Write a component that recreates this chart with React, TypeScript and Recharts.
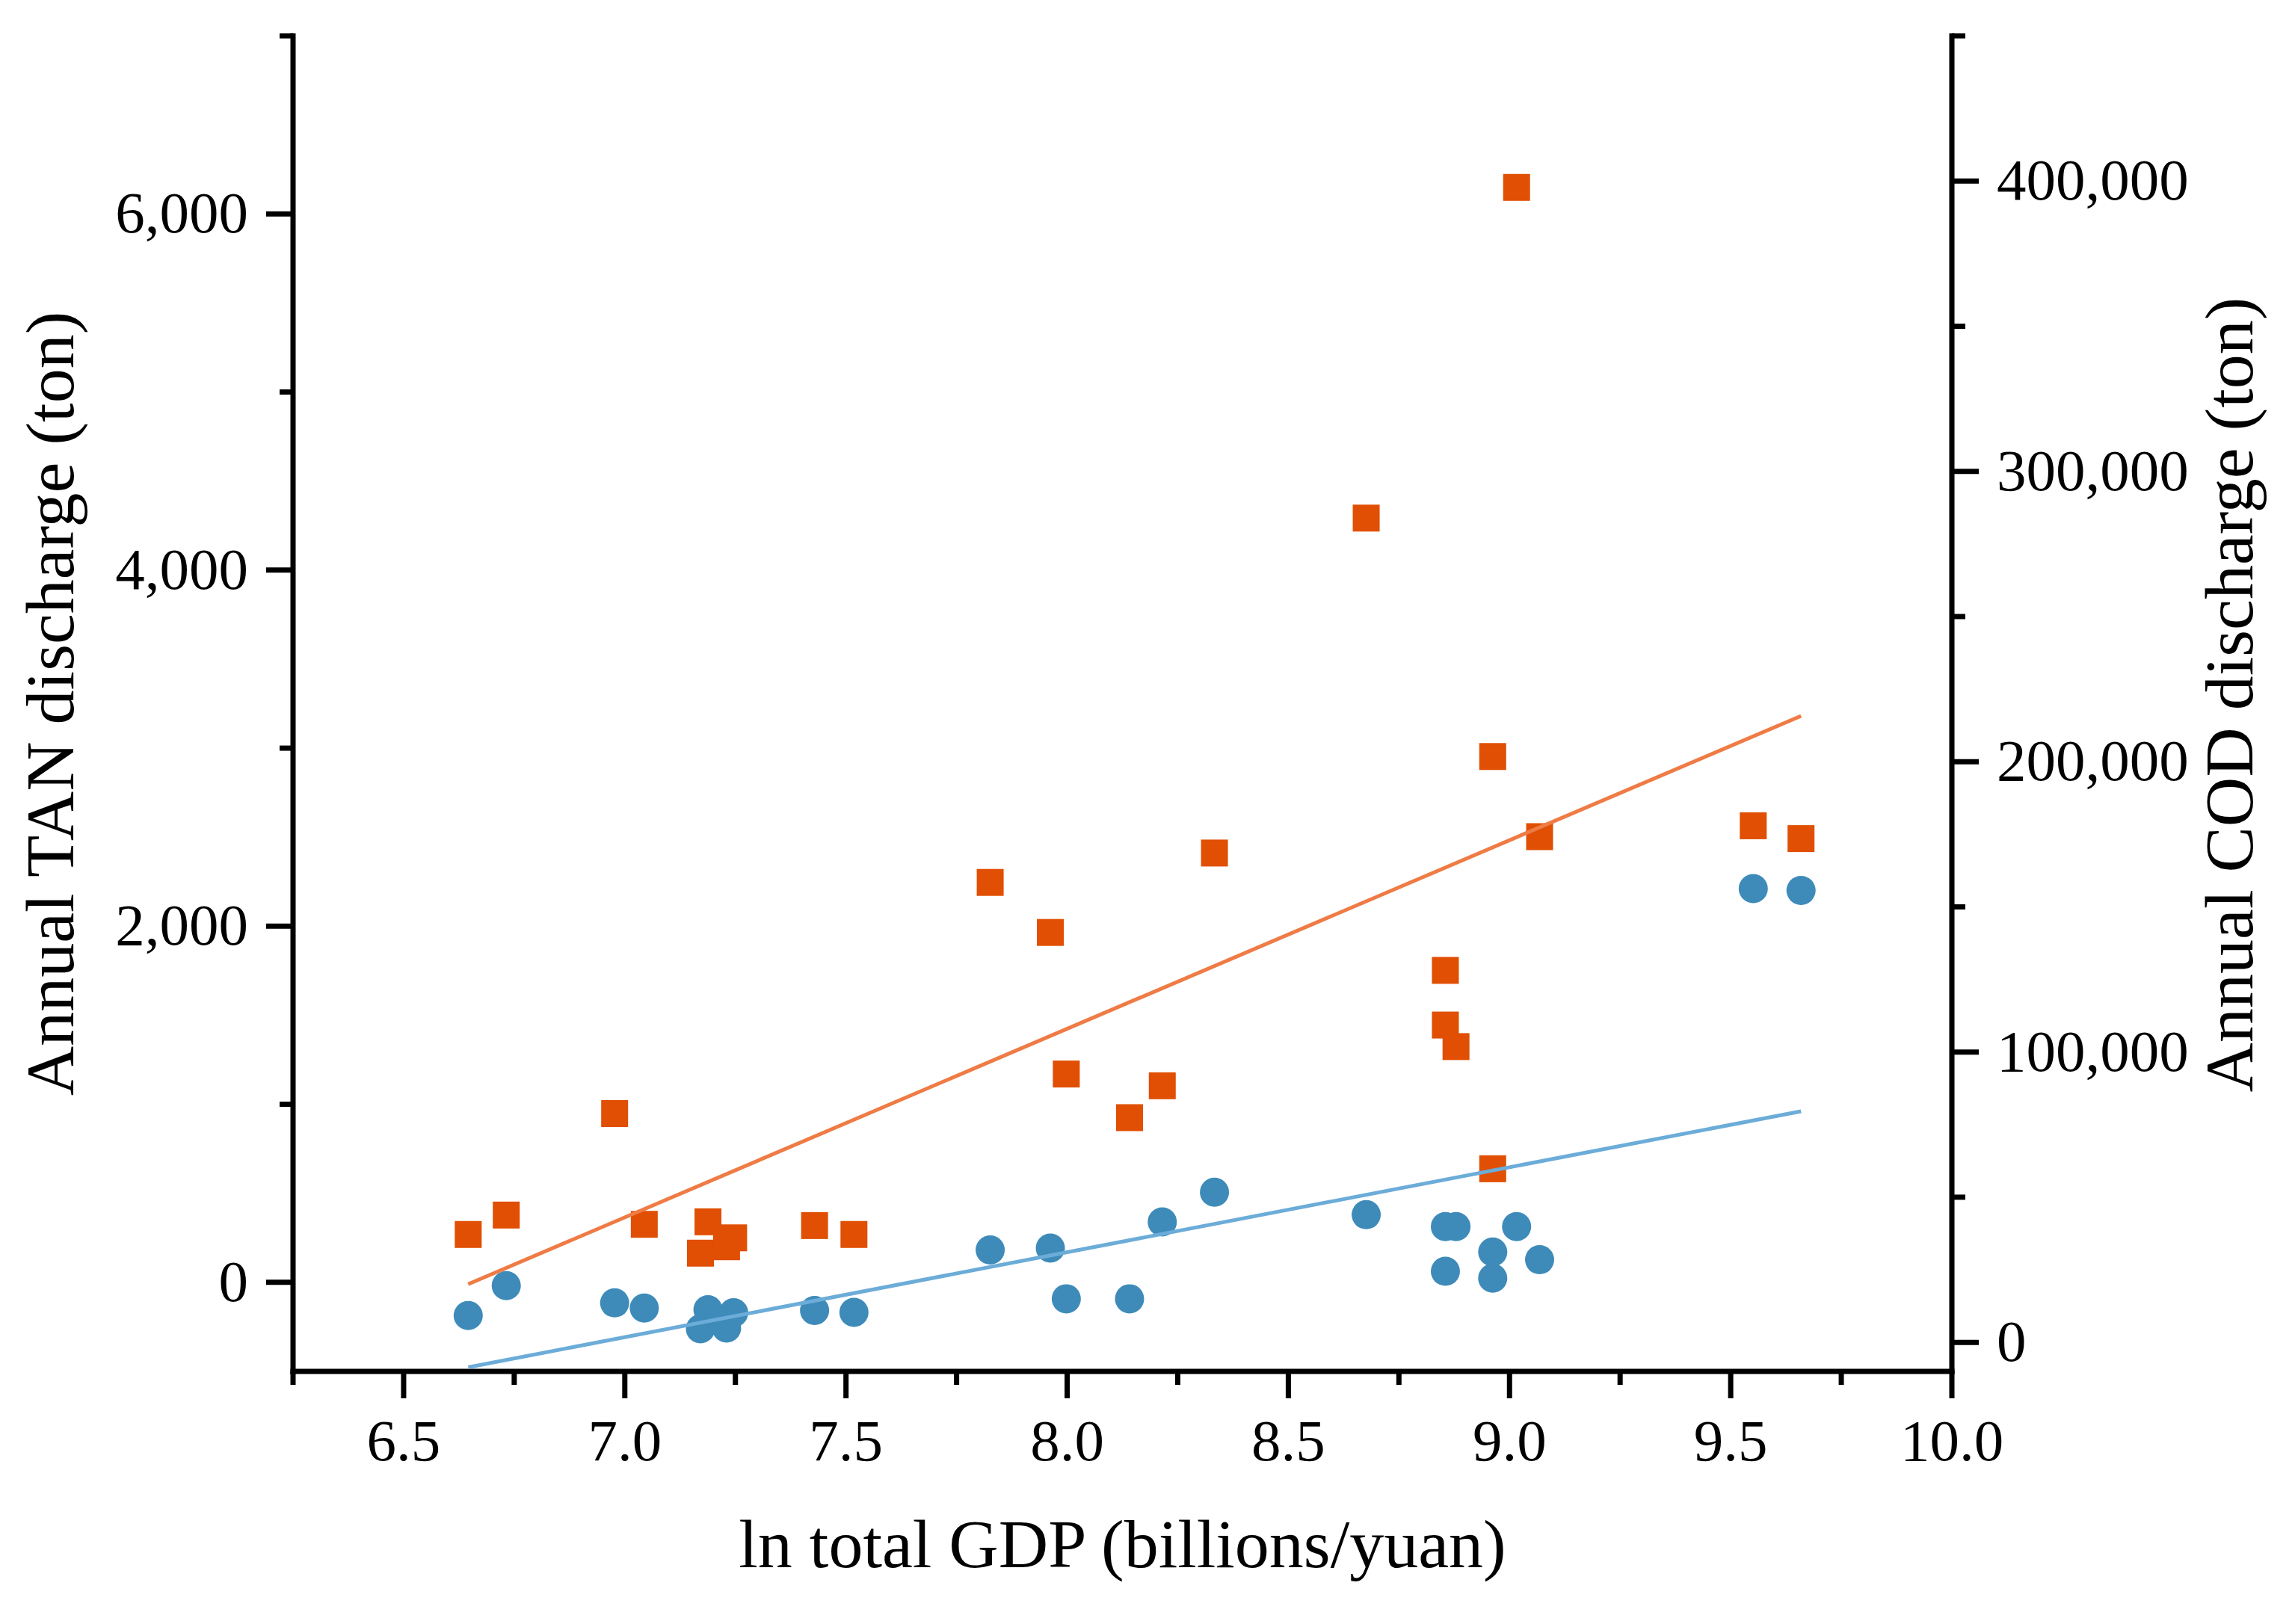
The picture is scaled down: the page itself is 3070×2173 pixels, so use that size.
import React from 'react'
import { ScatterChart, Scatter, XAxis, YAxis, Label } from 'recharts'

// ln total GDP of each city (shared by both series)
const gdpLn = [
  6.646, 6.732, 6.977, 7.044, 7.171, 7.188, 7.23, 7.246, 7.429, 7.518,
  7.826, 7.962, 7.998, 8.141, 8.215, 8.333, 8.676, 8.855, 8.855, 8.879,
  8.962, 8.962, 9.016, 9.068, 9.551, 9.659
]

// Annual TAN discharge (ton), left axis
const tanDischarge = [
  269, 378, 948, 326, 164, 340, 200, 250, 319, 269,
  2246, 1965, 1170, 925, 1104, 2411, 4292, 1752, 1445, 1324,
  638, 2953, 6149, 2503, 2564, 2492
]

// Annual COD discharge (ton), right axis
const codDischarge = [
  9260, 19530, 13590, 11830, 4660, 11220, 4910, 10210, 10960, 10320,
  31830, 32470, 15000, 15000, 41500, 51720, 43970, 39880, 24470, 39880,
  31130, 22100, 39880, 28460, 156310, 155670
]

// fitted lines, end points
const fitX = [6.646, 9.659]
const tanFit = [-10, 3181]
const codFit = [-8570, 79600]

const xMajorTicks = [6.5, 7.0, 7.5, 8.0, 8.5, 9.0, 9.5, 10.0]
const xMinorTicks = [6.25, 6.75, 7.25, 7.75, 8.25, 8.75, 9.25, 9.75]
const tanMajorTicks = [0, 2000, 4000, 6000]
const tanMinorTicks = [1000, 3000, 5000, 7000]
const codMajorTicks = [0, 100000, 200000, 300000, 400000]
const codMinorTicks = [50000, 150000, 250000, 350000, 450000]

const tanPoints = gdpLn.map((x, i) => ({ x, y: tanDischarge[i] }))
const codPoints = gdpLn.map((x, i) => ({ x, y: codDischarge[i] }))
const tanFitPoints = fitX.map((x, i) => ({ x, y: tanFit[i] }))
const codFitPoints = fitX.map((x, i) => ({ x, y: codFit[i] }))

const FONT = '"Liberation Serif", "Times New Roman", serif'
const INK = '#000'
const TICK_FONT = 79
const TITLE_FONT = 92
const MAJOR = 36
const MINOR = 18
const TICK_W = 7

const isMajor = (list: number[], v: number) => list.some((t) => Math.abs(t - v) < 1e-9)
const fmt = (v: number) => v.toLocaleString('en-US')

const BottomTick = ({ x, y, payload }: any) => {
  const major = isMajor(xMajorTicks, payload.value)
  return (
    <g>
      <line x1={x} y1={y} x2={x} y2={y + (major ? MAJOR : MINOR)} stroke={INK} strokeWidth={TICK_W} />
      {major && (
        <text x={x} y={y + 119} textAnchor="middle" fontSize={TICK_FONT} fontFamily={FONT} fill={INK}>
          {payload.value.toFixed(1)}
        </text>
      )}
    </g>
  )
}

const TopTick = ({ x, y, payload }: any) => {
  const major = isMajor(xMajorTicks, payload.value)
  return <line x1={x} y1={y} x2={x} y2={y + (major ? MAJOR - 3 : MINOR - 2)} stroke={INK} strokeWidth={TICK_W} />
}

const LeftTick = ({ x, y, payload }: any) => {
  const major = isMajor(tanMajorTicks, payload.value)
  return (
    <g>
      <line x1={x} y1={y} x2={x - (major ? MAJOR : MINOR)} y2={y} stroke={INK} strokeWidth={TICK_W} />
      {major && (
        <text x={x - 60} y={y + 25} textAnchor="end" fontSize={TICK_FONT} fontFamily={FONT} fill={INK}>
          {fmt(payload.value)}
        </text>
      )}
    </g>
  )
}

const RightTick = ({ x, y, payload }: any) => {
  const major = isMajor(codMajorTicks, payload.value)
  return (
    <g>
      <line x1={x} y1={y} x2={x + (major ? MAJOR : MINOR)} y2={y} stroke={INK} strokeWidth={TICK_W} />
      {major && (
        <text x={x + 60} y={y + 25} textAnchor="start" fontSize={TICK_FONT} fontFamily={FONT} fill={INK}>
          {fmt(payload.value)}
        </text>
      )}
    </g>
  )
}

const SquareDot = ({ cx, cy }: any) => (
  <rect x={cx - 18} y={cy - 18} width={36} height={36} fill="#E04F03" />
)

const CircleDot = ({ cx, cy }: any) => <circle cx={cx} cy={cy} r={19.5} fill="#3E8BBA" />

const NoDot = () => <g />

const verticalTitle = (text: string, dx: number, dy: number) => ({ viewBox }: any) => {
  const bx = viewBox.x + dx
  const by = viewBox.y + viewBox.height / 2 + dy
  return (
    <text
      x={bx}
      y={by}
      transform={`rotate(-90 ${bx} ${by})`}
      textAnchor="middle"
      fontSize={TITLE_FONT}
      fontFamily={FONT}
      fill={INK}
    >
      {text}
    </text>
  )
}

const bottomTitle = ({ viewBox }: any) => (
  <text
    x={viewBox.x + viewBox.width / 2}
    y={viewBox.y + 262}
    textAnchor="middle"
    fontSize={TITLE_FONT}
    fontFamily={FONT}
    fill={INK}
  >
    ln total GDP (billions/yuan)
  </text>
)

const axisLine = { stroke: INK, strokeWidth: TICK_W, strokeLinecap: 'square' as const }

export default function App() {
  return (
    <div style={{ position: 'absolute', left: 0, top: 0, width: 3070, height: 2173, background: '#fff' }}>
      <ScatterChart width={3070} height={2173} margin={{ top: 48, right: 0, bottom: 0, left: 0 }}>
        <XAxis
          xAxisId="bottom"
          type="number"
          dataKey="x"
          domain={[6.25, 10]}
          ticks={[...xMinorTicks, ...xMajorTicks].sort((a, b) => a - b)}
          interval={0}
          height={338}
          tickSize={0}
          tickMargin={0}
          tickLine={false}
          axisLine={axisLine}
          tick={(p: any) => <BottomTick {...p} />}
          allowDataOverflow
        >
          <Label content={bottomTitle} />
        </XAxis>
        <XAxis
          xAxisId="top"
          orientation="top"
          type="number"
          dataKey="x"
          domain={[6.25, 10]}
          ticks={[...xMinorTicks, ...xMajorTicks].sort((a, b) => a - b)}
          interval={0}
          height={0}
          tickSize={0}
          tickMargin={0}
          tickLine={false}
          axisLine={axisLine}
          tick={(p: any) => <TopTick {...p} />}
          allowDataOverflow
        />
        <YAxis
          yAxisId="left"
          type="number"
          dataKey="y"
          domain={[-500, 7000]}
          ticks={[...tanMajorTicks, ...tanMinorTicks].sort((a, b) => a - b)}
          interval={0}
          width={392}
          tickSize={0}
          tickMargin={0}
          tickLine={false}
          axisLine={axisLine}
          tick={(p: any) => <LeftTick {...p} />}
          allowDataOverflow
        >
          <Label content={verticalTitle('Annual TAN discharge (ton)', 98, 0)} />
        </YAxis>
        <YAxis
          yAxisId="right"
          orientation="right"
          type="number"
          dataKey="y"
          domain={[-10000, 450000]}
          ticks={[...codMajorTicks, ...codMinorTicks].sort((a, b) => a - b)}
          interval={0}
          width={459}
          tickSize={0}
          tickMargin={0}
          tickLine={false}
          axisLine={axisLine}
          tick={(p: any) => <RightTick {...p} />}
          allowDataOverflow
        >
          <Label content={verticalTitle('Annual COD discharge (ton)', 402, -12)} />
        </YAxis>

        <Scatter
          name="TAN"
          data={tanPoints}
          xAxisId="bottom"
          yAxisId="left"
          shape={(p: any) => <SquareDot {...p} />}
          isAnimationActive={false}
        />
        <Scatter
          name="COD"
          data={codPoints}
          xAxisId="bottom"
          yAxisId="right"
          shape={(p: any) => <CircleDot {...p} />}
          isAnimationActive={false}
        />
        <Scatter
          name="TAN fit"
          data={tanFitPoints}
          xAxisId="bottom"
          yAxisId="left"
          line={{ stroke: '#EF7B45', strokeWidth: 5 }}
          shape={() => <NoDot />}
          isAnimationActive={false}
        />
        <Scatter
          name="COD fit"
          data={codFitPoints}
          xAxisId="bottom"
          yAxisId="right"
          line={{ stroke: '#6CACD8', strokeWidth: 5 }}
          shape={() => <NoDot />}
          isAnimationActive={false}
        />
      </ScatterChart>
    </div>
  )
}
